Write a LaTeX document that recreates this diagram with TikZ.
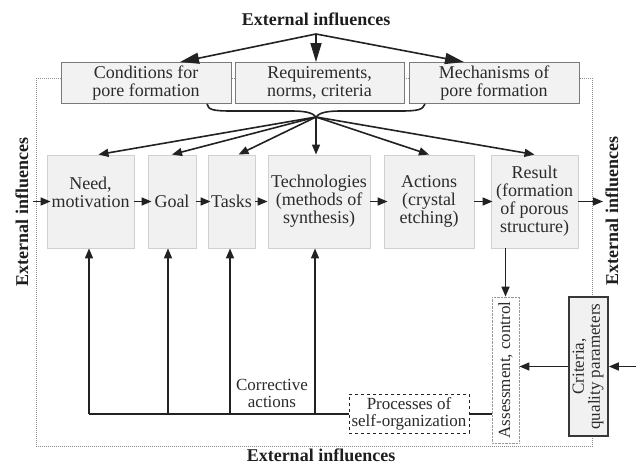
\documentclass[tikz,border=0pt]{standalone}
\usepackage{fontspec}
\setmainfont{Liberation Serif}
\usetikzlibrary{arrows.meta,calc}
\definecolor{txt}{HTML}{2B2B2B}
\definecolor{exttxt}{HTML}{1E1E1E}
\definecolor{topline}{HTML}{7A7A7A}
\definecolor{topfill}{HTML}{F2F2F2}
\definecolor{mline}{HTML}{D0D0D0}
\definecolor{mfill}{HTML}{F1F1F1}
\definecolor{arrc}{HTML}{222222}
\definecolor{frame}{HTML}{8C8C8C}
\begin{document}
\begin{tikzpicture}[x=1pt,y=-1pt,
  tbox/.style={draw=topline, fill=topfill, line width=0.9pt, minimum height=41pt, inner sep=0pt, align=center, text=txt, font=\fontsize{18}{17.5}\selectfont},
  mbox/.style={draw=mline, fill=mfill, line width=0.9pt, minimum height=93pt, inner sep=0pt, align=center, text=txt, font=\fontsize{18}{18}\selectfont},
  ext/.style={font=\bfseries\fontsize{18}{18}\selectfont, text=exttxt, inner sep=0pt},
  arr/.style={-{Triangle[length=10pt,width=8pt]}, line width=1.6pt, draw=arrc},
  bigarr/.style={-{Triangle[length=19pt,width=11pt]}, line width=1.6pt, draw=arrc},
  plain/.style={line width=1.6pt, draw=arrc},
  small/.style={font=\fontsize{17}{17}\selectfont, text=txt, align=center}]
\useasboundingbox (0,0) rectangle (636,465);
% dotted frame
\draw[frame, line width=0.8pt, dash pattern=on 1pt off 1pt] (36,78) rectangle (592,446.5);
% outer texts
\node[ext, anchor=base] (etop) at (316,26) {External influences};
\node[ext, anchor=base] (ebot) at (321,461) {External influences};
\node[ext, rotate=90] (eleft) at (22,212) {External influences};
\node[ext, rotate=90] (eright) at (612,211) {External influences};
% top boxes
\node[tbox, minimum width=170pt] (cond) at (146,83) {Conditions for\\pore formation};
\node[tbox, minimum width=169pt] (req) at (319.5,83) {Requirements,\\norms, criteria};
\node[tbox, minimum width=170pt] (mech) at (494,83) {Mechanisms of\\pore formation};
% main boxes
\node[mbox, minimum width=87pt] (need) at (90.5,201.5) {Need,\\motivation\\\mbox{}};
\node[mbox, minimum width=48pt] (goal) at (172,201.5) {Goal};
\node[mbox, minimum width=47pt] (tasks) at (231.5,201.5) {Tasks};
\node[mbox, minimum width=102pt] (tech) at (319,201.5) {Technologies\\(methods of\\synthesis)};
\node[mbox, minimum width=90pt] (act) at (429,201.5) {Actions\\(crystal\\etching)};
\node[mbox, minimum width=87pt] (res) at (534.5,201.5) {Result\\(formation\\of porous\\structure)};
% bottom boxes
\node[draw=gray!80, dash pattern=on 0.8pt off 0.6pt, fill=white, line width=0.8pt, minimum width=27pt, minimum height=146pt, inner sep=0pt, text=txt, font=\fontsize{17}{17}\selectfont] (assess) at (505.5,370) {\rotatebox{90}{Assessment, control}};
\node[draw=arrc!90, fill=mfill, line width=1.6pt, minimum width=39pt, minimum height=139pt, inner sep=0pt, text=txt, font=\fontsize{17}{17}\selectfont] (crit) at (588.5,366.5) {\rotatebox{90}{\begin{tabular}{@{}c@{}}Criteria,\\[-1pt]quality parameters\end{tabular}}};
\node[draw=arrc, dashed, fill=white, line width=0.9pt, minimum width=120pt, minimum height=39pt, inner sep=0pt, small] (proc) at (409,413.5) {Processes of\\self-organization};
\node[small] (corr) at (272,393) {Corrective\\actions};
% top arrows
\coordinate (src) at (316,34);
\draw[bigarr] (src) -- ($(cond.north)+(34,0)$);
\draw[bigarr] (src) -- (src |- req.north);
\draw[bigarr] (src) -- ($(mech.north)+(-30,0)$);
% brace
\coordinate (J) at (316,117);
\draw[plain] ($(cond.south)+(61,0)$) .. controls (208,110) and (214,111) .. (232,111) -- (292,111) .. controls (306,111) and (313,113) .. (J);
\draw[plain] ($(mech.south)+(-69,0)$) .. controls (423,110) and (417,111) .. (400,111) -- (340,111) .. controls (326,111) and (319,113) .. (J);
% fan arrows
\draw[arr] (J) -- ($(need.north)+(8,0)$);
\draw[arr] (J) -- (goal.north);
\draw[arr] (J) -- ($(tasks.north)+(7,0)$);
\draw[arr] (J) -- (J |- tech.north);
\draw[arr] (J) -- (act.north);
\draw[arr] (J) -- (res.north);
% row arrows
\coordinate (lin) at (33,201.5);
\coordinate (rout) at (603,201.5);
\draw[arr, shorten >=-4pt] (lin) -- (need.west);
\draw[arr, shorten >=-4pt] (need.east) -- (goal.west);
\draw[arr, shorten >=-3pt] (goal.east) -- (tasks.west);
\draw[arr] (tasks.east) -- (tech.west);
\draw[arr, shorten >=-4pt] (tech.east) -- (act.west);
\draw[arr, shorten >=-2pt] (act.east) -- (res.west);
\draw[arr] (res.east) -- (rout);
% feedback
\coordinate (c1) at (89,414);
\coordinate (c2) at (168,414);
\coordinate (c3) at (230,414);
\coordinate (c4) at (315,414);
\draw[plain] (c1) -- (proc.west |- c1);
\draw[plain] (proc.east |- c1) -- (assess.west |- c1);
\draw[arr] (c1) -- (c1 |- need.south);
\draw[arr] (c2) -- (c2 |- goal.south);
\draw[arr] (c3) -- (c3 |- tasks.south);
\draw[arr] (c4) -- (c4 |- tech.south);
\draw[arr] (res.south -| assess.north) -- (assess.north);
\draw[arr] (crit.west) -- (crit.west -| assess.east);
\coordinate (rin) at (636,366.5);
\draw[arr] (rin) -- (crit.east);
\end{tikzpicture}
\end{document}
